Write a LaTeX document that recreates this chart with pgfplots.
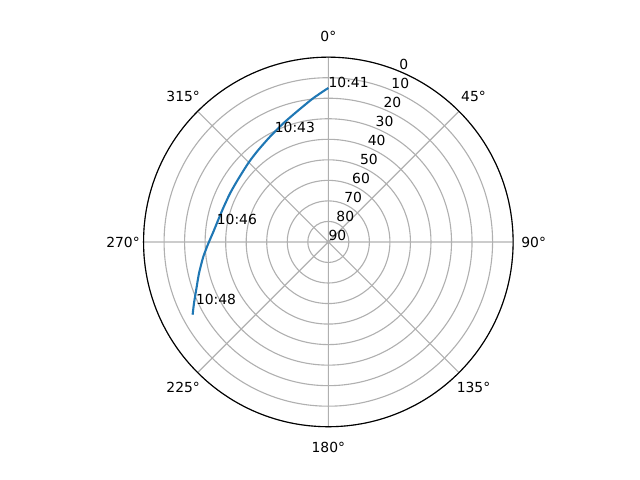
\documentclass[border=0pt]{standalone}
\usepackage{fontspec}
\setmainfont{DejaVu Sans}
\usepackage{pgfplots}
\usepackage{pgfplotstable}
\pgfplotsset{compat=1.18}
\usepgfplotslibrary{polar}
\definecolor{mplblue}{HTML}{1F77B4}
\definecolor{mplgrid}{HTML}{B0B0B0}

% azimuth (deg, clockwise from north) and elevation (deg)
\pgfplotstableread{
az    el
0.0   15.0
354.0 19.6
346.4 24.7
339.2 28.2
331.0 31.4
322.7 33.7
315.0 35.2
304.6 36.5
296.3 36.6
287.8 36.2
281.3 35.3
275.1 33.8
269.4 31.6
263.3 28.7
256.4 25.2
250.0 21.5
245.5 18.1
241.8 15.0
}\passdata

\begin{document}
\begin{tikzpicture}
\useasboundingbox (-236.4pt,-171.4pt) rectangle (224.4pt,174.2pt);
\begin{polaraxis}[
  at={(0,0)}, anchor=origin,
  scale only axis, width=266.1pt, height=266.1pt,
  xmin=0, xmax=360, ymin=0, ymax=90,
  xtick={0,45,...,315}, ytick={0,10,...,90},
  xticklabels={}, yticklabels={},
  major tick length=0pt,
  grid=major,
  major grid style={mplgrid, line width=0.8pt},
  axis line style={black, line width=0.8pt},
  y axis line style={draw=none},
  clip=false,
  font=\fontsize{10}{12}\selectfont,
]
\addplot[mplblue, line width=1.5pt, smooth, tension=0.4, no markers]
  table[x expr={90-\thisrow{az}}, y expr={90-\thisrow{el}}] {\passdata};

% azimuth labels
\node[anchor=center] at (axis cs:90,100) {0°};
\node[anchor=center] at (axis cs:45,100) {45°};
\node[anchor=center] at (axis cs:0,100) {90°};
\node[anchor=center] at (axis cs:-45,100) {135°};
\node[anchor=center] at (axis cs:-90,100) {180°};
\node[anchor=center] at (axis cs:-135,100) {225°};
\node[anchor=center] at (axis cs:180,100) {270°};
\node[anchor=center] at (axis cs:135,100) {315°};

% elevation labels
\node[anchor=base west, inner sep=0pt, yshift=1.3pt] at (axis cs:67.5,90) {0};
\node[anchor=base west, inner sep=0pt, yshift=1.3pt] at (axis cs:67.5,80) {10};
\node[anchor=base west, inner sep=0pt, yshift=1.3pt] at (axis cs:67.5,70) {20};
\node[anchor=base west, inner sep=0pt, yshift=1.3pt] at (axis cs:67.5,60) {30};
\node[anchor=base west, inner sep=0pt, yshift=1.3pt] at (axis cs:67.5,50) {40};
\node[anchor=base west, inner sep=0pt, yshift=1.3pt] at (axis cs:67.5,40) {50};
\node[anchor=base west, inner sep=0pt, yshift=1.3pt] at (axis cs:67.5,30) {60};
\node[anchor=base west, inner sep=0pt, yshift=1.3pt] at (axis cs:67.5,20) {70};
\node[anchor=base west, inner sep=0pt, yshift=1.3pt] at (axis cs:67.5,10) {80};
\node[anchor=base west, inner sep=0pt, yshift=1.3pt] at (axis cs:67.5,0) {90};

% pass time annotations
\node[anchor=base west, inner sep=0pt] at (axis cs:90,75.0) {10:41};
\node[anchor=base west, inner sep=0pt] at (axis cs:116.2,59.3) {10:43};
\node[anchor=base west, inner sep=0pt] at (axis cs:171.0,55.1) {10:46};
\node[anchor=base west, inner sep=0pt] at (axis cs:205.1,71.3) {10:48};
\end{polaraxis}
\end{tikzpicture}
\end{document}
